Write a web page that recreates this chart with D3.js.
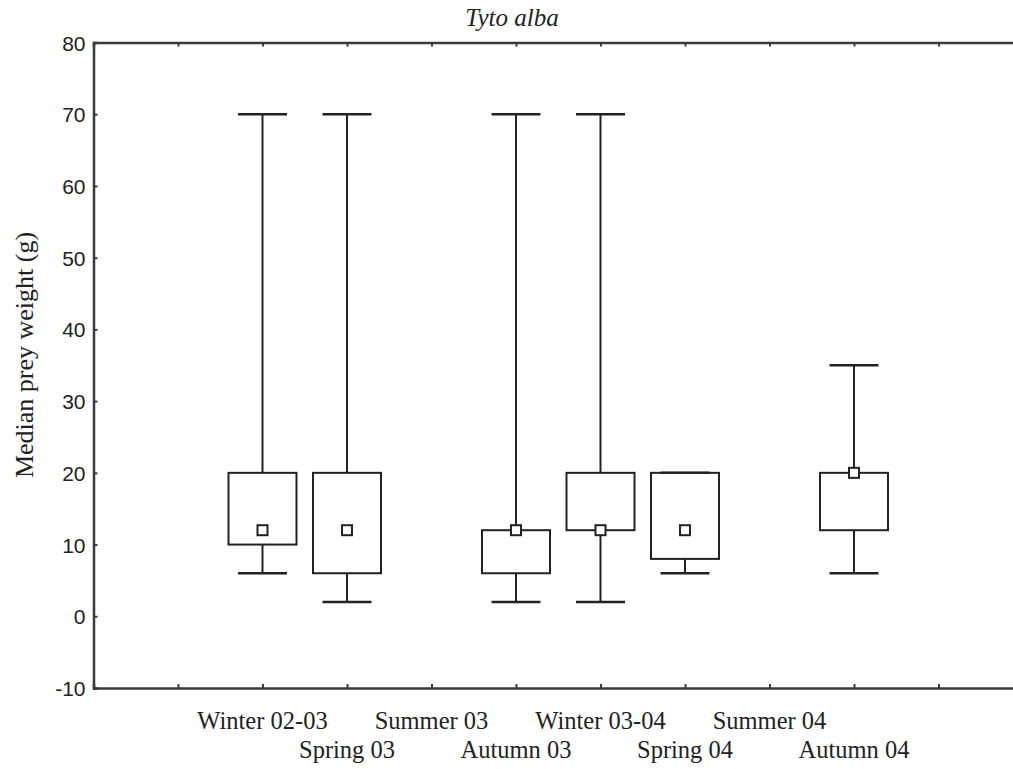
<!DOCTYPE html>
<html>
<head>
<meta charset="utf-8">
<script src="https://cdn.jsdelivr.net/npm/d3@7"></script>
<style>
  body { margin: 0; background: #fff; }
</style>
</head>
<body>
<div id="chart"></div>
<script>
// Data
var categories = ["Winter 02-03", "Spring 03", "Summer 03", "Autumn 03", "Winter 03-04", "Spring 04", "Summer 04", "Autumn 04"];
var medians = [12, 12, null, 12, 12, 12, null, 20];
var q1 = [10, 6, null, 6, 12, 8, null, 12];
var q3 = [20, 20, null, 12, 20, 20, null, 20];
var mins = [6, 2, null, 2, 2, 6, null, 6];
var maxs = [70, 70, null, 70, 70, 20, null, 35];
var yTicks = [-10, 0, 10, 20, 30, 40, 50, 60, 70, 80];

// Set up chart
var svgWidth = 1013;
var svgHeight = 769;

var svg = d3.select("#chart")
  .append("svg")
  .attr("width", svgWidth)
  .attr("height", svgHeight);

// x positions: slot 0 is the left axis, categories sit on slots 2..9, ticks on 1..10
var xScale = d3.scaleLinear()
  .domain([0, 11])
  .range([93.5, 1023]);

var yScale = d3.scaleLinear()
  .domain([-10, 80])
  .range([688, 42.5]);

var ink = "#222";
var axisInk = "#3a3a3a";

var boxes = categories.map(function(c, i) {
  return { name: c, pos: i + 2, med: medians[i], lo: q1[i], hi: q3[i], min: mins[i], max: maxs[i] };
});

// Axes
var tickPos = d3.range(1, 11);

var bottomAxis = d3.axisBottom(xScale).tickValues(tickPos).tickSize(-4).tickFormat("");
var topAxis = d3.axisTop(xScale).tickValues(tickPos).tickSize(-4).tickFormat("");
var leftAxis = d3.axisLeft(yScale).tickValues(yTicks).tickSize(-4).tickPadding(8)
  .tickFormat(d => String(d));

var gBottom = svg.append("g")
  .attr("transform", `translate(0, ${yScale(-10)})`)
  .call(bottomAxis);

var gTop = svg.append("g")
  .attr("transform", `translate(0, ${yScale(80)})`)
  .call(topAxis);

var gLeft = svg.append("g")
  .attr("transform", `translate(${xScale(0)}, 0)`)
  .call(leftAxis)
  .attr("font-family", "Liberation Sans, Arial, sans-serif")
  .attr("font-size", "21px");

[gBottom, gTop, gLeft].forEach(function(g) {
  g.select(".domain").attr("stroke", axisInk).attr("stroke-width", 2.5);
  g.selectAll(".tick line").attr("stroke", axisInk).attr("stroke-width", 2);
});

gLeft.selectAll(".tick text")
  .attr("fill", ink)
  .attr("dy", "0.36em");

// Category labels, staggered on two rows
svg.append("g")
  .selectAll("text")
  .data(boxes)
  .enter()
  .append("text")
  .attr("x", d => xScale(d.pos))
  .attr("y", (d, i) => i % 2 === 0 ? 729 : 758)
  .attr("text-anchor", "middle")
  .attr("font-family", "Liberation Serif, Times New Roman, serif")
  .attr("font-size", "24.5px")
  .attr("fill", ink)
  .text(d => d.name);

// Box plots
var boxW = 68;
var capW = 49;
var medS = 10;

var plotGroup = svg.append("g");

var shown = boxes.filter(d => d.med !== null);

var bg = plotGroup.selectAll("g.box")
  .data(shown)
  .enter()
  .append("g")
  .attr("class", "box")
  .attr("stroke", ink)
  .attr("stroke-width", 2)
  .attr("fill", "none");

// whiskers
bg.append("line")
  .attr("x1", d => xScale(d.pos))
  .attr("x2", d => xScale(d.pos))
  .attr("y1", d => yScale(d.max))
  .attr("y2", d => yScale(d.hi));

bg.append("line")
  .attr("x1", d => xScale(d.pos))
  .attr("x2", d => xScale(d.pos))
  .attr("y1", d => yScale(d.lo))
  .attr("y2", d => yScale(d.min));

// caps
bg.append("line")
  .attr("x1", d => xScale(d.pos) - capW / 2)
  .attr("x2", d => xScale(d.pos) + capW / 2)
  .attr("y1", d => yScale(d.max))
  .attr("y2", d => yScale(d.max))
  .attr("stroke-width", 2.5);

bg.append("line")
  .attr("x1", d => xScale(d.pos) - capW / 2)
  .attr("x2", d => xScale(d.pos) + capW / 2)
  .attr("y1", d => yScale(d.min))
  .attr("y2", d => yScale(d.min))
  .attr("stroke-width", 2.5);

// box
bg.append("rect")
  .attr("x", d => xScale(d.pos) - boxW / 2)
  .attr("y", d => yScale(d.hi))
  .attr("width", boxW)
  .attr("height", d => yScale(d.lo) - yScale(d.hi));

// median marker
bg.append("rect")
  .attr("x", d => xScale(d.pos) - medS / 2)
  .attr("y", d => yScale(d.med) - medS / 2)
  .attr("width", medS)
  .attr("height", medS)
  .attr("fill", "#fff");

// Title
svg.append("text")
  .attr("x", 512)
  .attr("y", 26)
  .attr("text-anchor", "middle")
  .attr("font-family", "Liberation Serif, Times New Roman, serif")
  .attr("font-style", "italic")
  .attr("font-size", "25px")
  .attr("fill", ink)
  .text("Tyto alba");

// Y axis label
svg.append("text")
  .attr("transform", "rotate(-90)")
  .attr("x", -355)
  .attr("y", 33)
  .attr("text-anchor", "middle")
  .attr("font-family", "Liberation Serif, Times New Roman, serif")
  .attr("font-size", "26px")
  .attr("fill", ink)
  .text("Median prey weight (g)");
</script>
</body>
</html>
